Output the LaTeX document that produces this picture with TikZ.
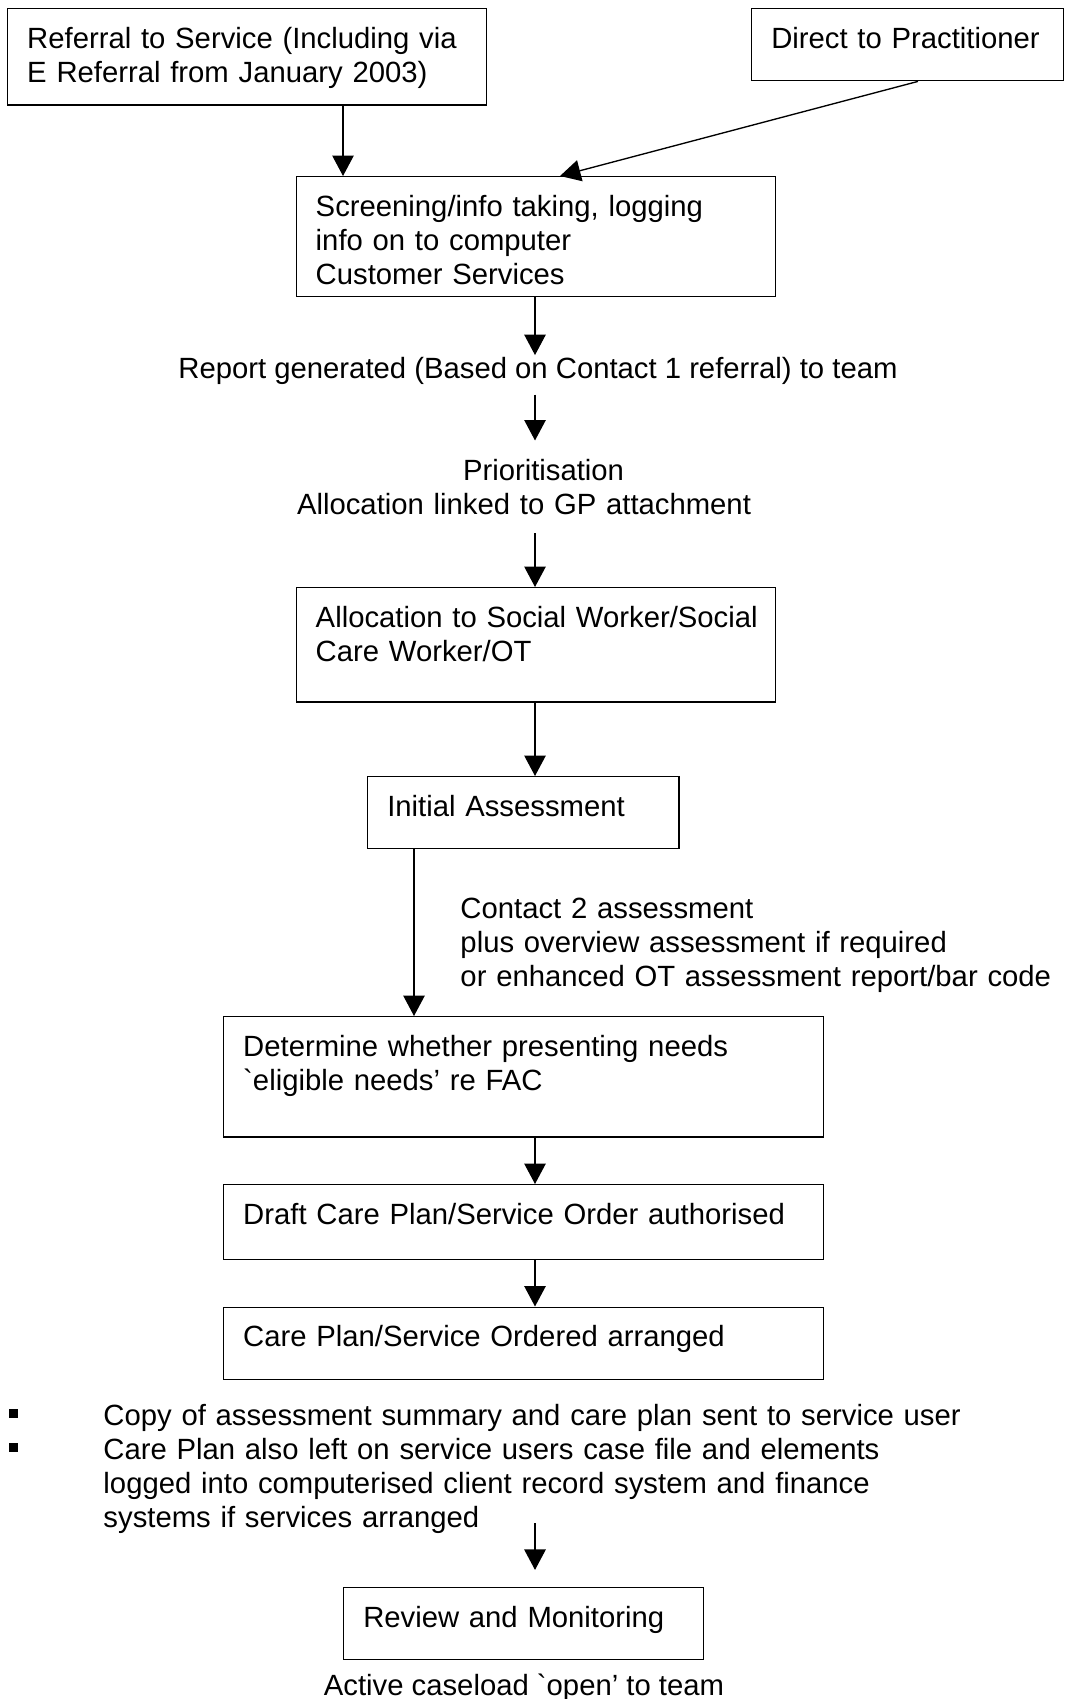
\documentclass[tikz,border=0pt]{standalone}
\usepackage{fontspec}
\newfontfamily\arialfont{Liberation Sans}
\usetikzlibrary{arrows.meta}

\begin{document}
\begin{tikzpicture}[x=0.41pt, y=-0.41pt, font=\arialfont\fontsize{12pt}{14pt}\selectfont]
  \tikzset{
    box/.style 2 args={draw, line width=0.6pt, anchor=north west, align=left,
      inner xsep=8pt, inner ysep=0pt, text height=16.2pt, text width=#1, text depth=#2},
    remark/.style={inner sep=0pt},
    bullet/.style={fill=black, inner sep=0pt, minimum size=3.7pt},
    flow/.style={-{Triangle[length=8.4pt, width=8.8pt]}, line width=0.55pt},
  }
  \useasboundingbox (0,0) rectangle (1065,1699);

  % boxes
  \node[box={180.4pt}{23.2pt}] (referral) at (7,8) {Referral to Service (Including via\\E Referral from January 2003)};
  \node[box={111.9pt}{13.3pt}] (direct) at (751,8) {Direct to Practitioner};
  \node[box={180.6pt}{33pt}] (screen) at (295.5,176) {Screening/info taking, logging\\info on to computer\\Customer Services};
  \node[box={180.6pt}{30.7pt}] (alloc) at (295.5,587) {\mbox{Allocation to Social Worker/Social}\\Care Worker/OT};
  \node[box={111.7pt}{13.3pt}] (initial) at (367,776) {Initial Assessment};
  \node[box={230pt}{33.2pt}] (eligible) at (223,1016) {Determine whether presenting needs\\`eligible needs’ re FAC};
  \node[box={230pt}{14.5pt}] (draft) at (223,1184) {Draft Care Plan/Service Order authorised};
  \node[box={230pt}{13.5pt}] (arranged) at (223,1306.5) {Care Plan/Service Ordered arranged};
  \node[box={131.6pt}{13.3pt}] (review) at (343,1587) {Review and Monitoring};

  % free text
  \node[remark, anchor=base, text height=9.4pt, text depth=6.4pt] (report) at (538,378.5) {Report generated (Based on Contact 1 referral) to team};
  \node[remark, anchor=base, align=center, text width=200pt, text height=16.2pt, text depth=21.5pt] (prior) at (524,480.5) {\hspace*{16pt}Prioritisation\\Allocation linked to GP attachment};
  \node[remark, anchor=base west, align=left, text width=250pt] (contact) at (460,918.5) {Contact 2 assessment\\plus overview assessment if required\\or enhanced OT assessment report/bar code};
  \node[remark, anchor=base west, align=left, text width=360pt, text depth=39.9pt] (list) at (103,1425.5) {Copy of assessment summary and care plan sent to service user\\Care Plan also left on service users case file and elements\\logged into computerised client record system and finance\\systems if services arranged};
  \node[bullet] (markA) at (13.5,1413) {};
  \node[bullet] (markB) at (13.5,1447.5) {};
  \node[remark, anchor=base] (active) at (524,1695.5) {Active caseload `open’ to team};

  % arrows
  \coordinate (axis) at (535,0);
  \coordinate (leftdrop) at (343,0);
  \coordinate (sidedrop) at (414,0);
  \coordinate (outdirect) at (918,0);
  \coordinate (intoscreen) at (560,0);

  \draw[flow] (referral.south -| leftdrop) -- (screen.north -| leftdrop);
  \draw[flow] (direct.south -| outdirect) -- (screen.north -| intoscreen);
  \draw[flow] (screen.south -| axis) -- (report.north -| axis);
  \draw[flow] (report.south -| axis) -- (prior.north -| axis);
  \draw[flow] (prior.south -| axis) -- (alloc.north -| axis);
  \draw[flow] (alloc.south -| axis) -- (initial.north -| axis);
  \draw[flow] (initial.south -| sidedrop) -- (eligible.north -| sidedrop);
  \draw[flow] (eligible.south -| axis) -- (draft.north -| axis);
  \draw[flow] (draft.south -| axis) -- (arranged.north -| axis);
  \draw[flow, shorten >=7pt] (list.south -| axis) -- (review.north -| axis);
\end{tikzpicture}
\end{document}
